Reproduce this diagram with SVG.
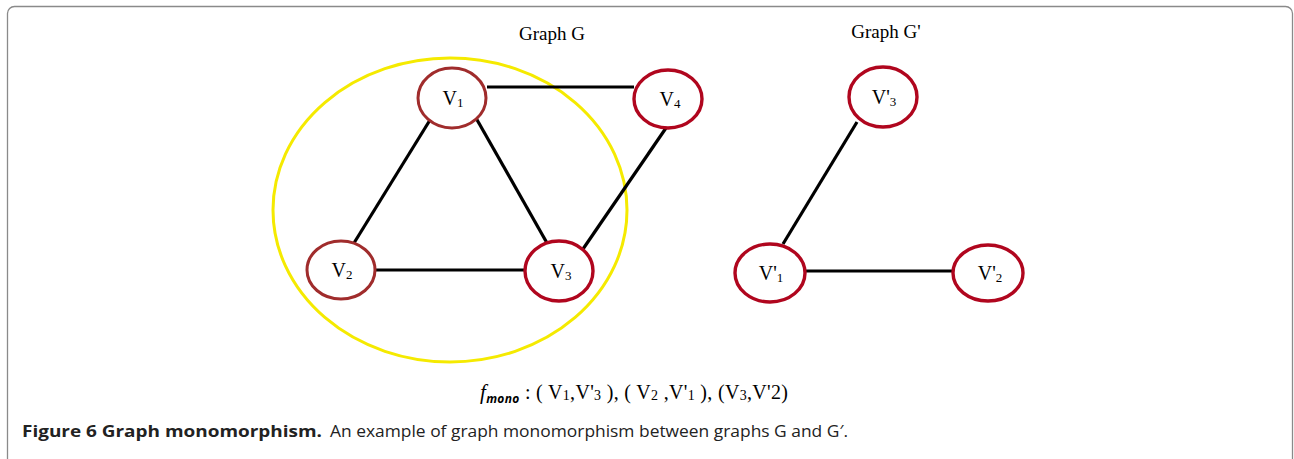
<svg xmlns="http://www.w3.org/2000/svg" width="1294" height="459" viewBox="0 0 1294 459">
<style>
.frame{fill:#fff;stroke:#8a8a8a;stroke-width:1.3}
.edge{stroke:#000;stroke-width:3.2;fill:none}
.n1{fill:#fff;stroke:#a02c2c;stroke-width:3}
.n2{fill:#fff;stroke:#b0061e;stroke-width:3.4}
.lbl{font-family:"Liberation Serif",serif;font-size:20px;fill:#000}
.sub{font-size:13px}
.title{font-family:"Liberation Serif",serif;font-size:19px;fill:#000}
.cap{font-family:"Open Sans","Noto Sans",sans-serif;font-size:16.5px;fill:#222}
</style>
<rect class="frame" x="7.5" y="6.5" width="1285" height="480" rx="7"/>
<text class="title" x="552" y="40" text-anchor="middle">Graph G</text>
<text class="title" x="886" y="38" text-anchor="middle">Graph G'</text>
<ellipse id="selection" cx="450" cy="210" rx="177" ry="152" fill="none" stroke="#f5ea00" stroke-width="3"/>
<g id="connectors">
<line class="edge" x1="487" y1="87" x2="634" y2="87"/>
<line class="edge" x1="430" y1="120" x2="354" y2="243"/>
<line class="edge" x1="476" y1="118" x2="547" y2="243"/>
<line class="edge" x1="375" y1="270" x2="525" y2="270"/>
<line class="edge" x1="583" y1="249" x2="666" y2="128"/>
<line class="edge" x1="857" y1="122" x2="783" y2="244"/>
<line class="edge" x1="806" y1="271" x2="953" y2="271"/>
</g>
<g id="V1"><ellipse class="n1" cx="452" cy="98" rx="34" ry="30"/><text class="lbl" x="453" y="105" text-anchor="middle">V<tspan class="sub" dy="2">1</tspan></text></g>
<g id="V2"><ellipse class="n1" cx="341" cy="270" rx="34" ry="29"/><text class="lbl" x="342" y="277" text-anchor="middle">V<tspan class="sub" dy="2">2</tspan></text></g>
<g id="V3"><ellipse class="n2" cx="559" cy="271" rx="34" ry="30"/><text class="lbl" x="561" y="278" text-anchor="middle">V<tspan class="sub" dy="2">3</tspan></text></g>
<g id="V4"><ellipse class="n2" cx="668" cy="99" rx="34" ry="29"/><text class="lbl" x="670" y="106" text-anchor="middle">V<tspan class="sub" dy="2">4</tspan></text></g>
<g id="Vp3"><ellipse class="n2" cx="883" cy="97" rx="34" ry="30"/><text class="lbl" x="884" y="104" text-anchor="middle">V'<tspan class="sub" dy="2">3</tspan></text></g>
<g id="Vp1"><ellipse class="n2" cx="770" cy="273" rx="35" ry="29"/><text class="lbl" x="771" y="280" text-anchor="middle">V'<tspan class="sub" dy="2">1</tspan></text></g>
<g id="Vp2"><ellipse class="n2" cx="988" cy="273" rx="35" ry="28"/><text class="lbl" x="990" y="280" text-anchor="middle">V'<tspan class="sub" dy="2">2</tspan></text></g>
<text x="480" y="399" textLength="308" lengthAdjust="spacing" style="font-family:'Liberation Serif',serif;font-size:20px;fill:#000"><tspan font-style="italic" font-size="21">f</tspan><tspan dy="4" font-family="Open Sans, sans-serif" font-style="italic" font-weight="bold" font-size="12">mono</tspan><tspan dy="-4"> : ( V</tspan><tspan font-size="14" dy="1">1</tspan><tspan dy="-1">,V'</tspan><tspan font-size="14" dy="1">3</tspan><tspan dy="-1"> ), ( V</tspan><tspan font-size="14" dy="1">2</tspan><tspan dy="-1"> ,V'</tspan><tspan font-size="14" dy="1">1</tspan><tspan dy="-1"> ), (V</tspan><tspan font-size="14" dy="1">3</tspan><tspan dy="-1">,V'2)</tspan></text>
<text class="cap" x="22" y="437" font-weight="bold" fill="#000" textLength="300" lengthAdjust="spacingAndGlyphs">Figure 6 Graph monomorphism.</text>
<text class="cap" x="330" y="437" textLength="518" lengthAdjust="spacingAndGlyphs">An example of graph monomorphism between graphs G and G′.</text>
</svg>
